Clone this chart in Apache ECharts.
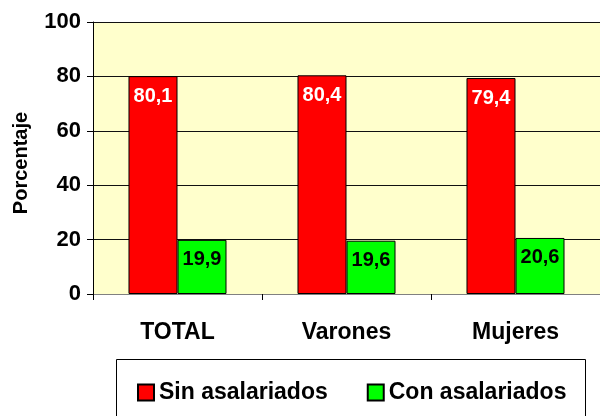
<!DOCTYPE html>
<html>
<head>
<meta charset="utf-8">
<script src="https://cdn.jsdelivr.net/npm/echarts@6/dist/echarts.min.js"></script>
<style>
  html, body { margin: 0; padding: 0; background: #fff; }
  #chart { width: 600px; height: 416px; }
</style>
</head>
<body>
<div id="chart"></div>
<script>
// datos
const categories = ['TOTAL', 'Varones', 'Mujeres']
const sinAsalariados = [80.1, 80.4, 79.4]
const conAsalariados = [19.9, 19.6, 20.6]
const yTicks = [0, 20, 40, 60, 80, 100]

const chart = echarts.init(document.getElementById('chart'))
const font = 'Liberation Sans, Arial, sans-serif'
const fmt = p => String(p.value).replace('.', ',')

const option = {
  animation: false,
  textStyle: { fontFamily: font },
  grid: { left: 93, top: 22, right: 0, bottom: 122, show: true, backgroundColor: '#FFFFCC', borderWidth: 0 },
  graphic: [{
    type: 'rect',
    shape: { x: 116.5, y: 359.5, width: 469, height: 70 },
    style: { fill: '#fff', stroke: '#000', lineWidth: 1 },
    z: 0
  }],
  legend: {
    top: 381,
    left: 137,
    padding: 0,
    itemWidth: 16,
    itemHeight: 16,
    itemGap: 39,
    icon: 'rect',
    textStyle: { fontFamily: font, fontWeight: 'bold', fontSize: 23, color: '#000' },
    data: ['Sin asalariados', 'Con asalariados']
  },
  xAxis: {
    type: 'category',
    data: categories,
    axisLine: { lineStyle: { color: '#808080', width: 1 } },
    axisTick: { show: true, length: 6, lineStyle: { color: '#000' } },
    axisLabel: { fontFamily: font, fontWeight: 'bold', fontSize: 23, color: '#000', margin: 27 }
  },
  yAxis: {
    type: 'value',
    min: yTicks[0],
    max: yTicks[yTicks.length - 1],
    interval: 20,
    name: 'Porcentaje',
    nameLocation: 'middle',
    nameGap: 62,
    nameTextStyle: { fontFamily: font, fontWeight: 'bold', fontSize: 20, color: '#000', padding: [0, 10, 0, 0] },
    axisLine: { show: true, lineStyle: { color: '#000' } },
    axisTick: { show: true, length: 6, lineStyle: { color: '#000' } },
    axisLabel: { fontFamily: font, fontWeight: 'bold', fontSize: 22, color: '#000', margin: 12 },
    splitLine: { lineStyle: { color: '#111', width: 1 } }
  },
  series: [
    {
      name: 'Sin asalariados',
      type: 'bar',
      data: sinAsalariados,
      barGap: '0%',
      barCategoryGap: '42%',
      itemStyle: { color: '#FF0000', borderColor: '#000', borderWidth: 1 },
      label: {
        show: true, position: 'insideTop', distance: 10, formatter: fmt,
        fontFamily: font, fontWeight: 'bold', fontSize: 20, color: '#fff'
      }
    },
    {
      name: 'Con asalariados',
      type: 'bar',
      data: conAsalariados,
      itemStyle: { color: '#00FF00', borderColor: '#000', borderWidth: 1 },
      label: {
        show: true, position: 'insideTop', distance: 10, formatter: fmt,
        fontFamily: font, fontWeight: 'bold', fontSize: 20, color: '#000'
      }
    }
  ]
}

chart.setOption(option)
</script>
</body>
</html>
